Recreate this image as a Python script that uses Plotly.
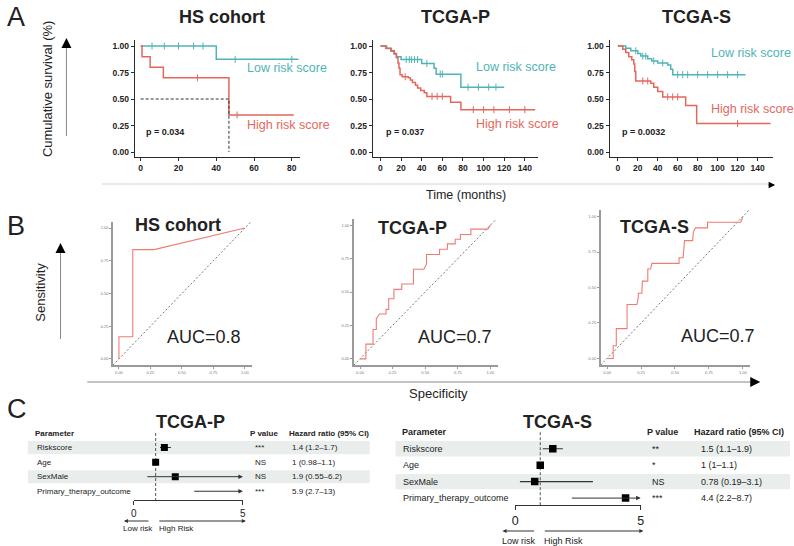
import plotly.graph_objects as go

W, H = 794, 546
FONT = "Liberation Sans, Arial, sans-serif"
INK = "#222222"
TEAL = "#4FB4B7"
RED = "#E4675C"
ROC_RED = "#F07B73"
BAND = "#E9EEEC"

# ---- A: Kaplan-Meier curves (months, survival probability) ----
KM_TITLES = ["HS cohort", "TCGA-P", "TCGA-S"]
KM_PVALUES = ["p = 0.034", "p = 0.037", "p = 0.0032"]
KM_LAST_TICK = [80, 140, 140]

HS_LOW_T = [0, 40, 83.5]
HS_LOW_S = [1.0, 0.875, 0.875]
HS_LOW_CENSOR = [6, 12.5, 20, 28, 33, 50, 80]
HS_HIGH_T = [0, 0.7, 5, 12, 46.7, 81]
HS_HIGH_S = [1.0, 0.9, 0.8, 0.7, 0.35, 0.35]
HS_HIGH_CENSOR = [30, 51]
HS_HIGH_MEDIAN = 46.7

TP_LOW_T = [0, 6, 10.5, 13, 15.5, 20, 40, 52, 54, 78, 120]
TP_LOW_S = [1.0, 0.977, 0.95, 0.925, 0.9, 0.872, 0.836, 0.79, 0.735, 0.612, 0.612]
TP_LOW_CENSOR = [25, 28, 30, 33, 36, 45, 58, 60, 85, 95, 105, 112]
TP_HIGH_T = [0, 5, 10, 13.5, 15.5, 17, 18, 19, 21, 27, 29, 31, 34, 36, 39, 42.5, 45, 68, 78, 150]
TP_HIGH_S = [1.0, 0.98, 0.955, 0.93, 0.89, 0.84, 0.79, 0.73, 0.71, 0.70, 0.68, 0.655,
             0.63, 0.605, 0.58, 0.56, 0.525, 0.47, 0.40, 0.40]
TP_HIGH_CENSOR = [24, 50, 55, 60, 90, 100, 110, 125, 140]

TS_LOW_T = [0, 8, 13, 20, 23, 30, 34, 40, 50, 53, 55, 128]
TS_LOW_S = [1.0, 0.98, 0.955, 0.93, 0.905, 0.88, 0.86, 0.84, 0.82, 0.78, 0.73, 0.73]
TS_LOW_CENSOR = [18, 25, 28, 36, 45, 60, 65, 70, 80, 90, 100, 110, 120]
TS_HIGH_T = [0, 5, 8, 11, 14, 16, 17, 18, 33, 36, 40, 45, 68, 79, 153]
TS_HIGH_S = [1.0, 0.97, 0.94, 0.90, 0.87, 0.83, 0.76, 0.67, 0.65, 0.61, 0.57, 0.52, 0.44, 0.27, 0.27]
TS_HIGH_CENSOR = [25, 30, 50, 55, 60, 120]

# ---- B: ROC curves ----
ROC_TITLES = ["HS cohort", "TCGA-P", "TCGA-S"]
ROC_AUC = [0.8, 0.7, 0.7]
HS_ROC_X = [0, 0, 0.11, 0.11, 0.28, 1.0]
HS_ROC_Y = [0, 0.17, 0.17, 0.835, 0.835, 1.0]
TP_ROC_X = [0, 0.045, 0.045, 0.10, 0.10, 0.125, 0.125, 0.15, 0.20, 0.20, 0.22, 0.22, 0.26, 0.26,
            0.32, 0.32, 0.41, 0.41, 0.49, 0.51, 0.51, 0.61, 0.61, 0.67, 0.67, 0.73, 0.73, 0.77,
            0.77, 0.85, 0.85, 0.98, 1.0]
TP_ROC_Y = [0, 0, 0.11, 0.11, 0.22, 0.22, 0.30, 0.335, 0.335, 0.37, 0.37, 0.45, 0.45, 0.52,
            0.52, 0.56, 0.56, 0.67, 0.67, 0.71, 0.78, 0.78, 0.82, 0.82, 0.86, 0.86, 0.895, 0.895,
            0.93, 0.93, 0.97, 0.97, 1.0]
TS_ROC_X = [0, 0.045, 0.045, 0.068, 0.068, 0.147, 0.147, 0.22, 0.23, 0.23, 0.256, 0.26, 0.30,
            0.30, 0.32, 0.33, 0.53, 0.53, 0.56, 0.57, 0.63, 0.635, 0.65, 0.74, 0.74, 0.985, 1.0]
TS_ROC_Y = [0, 0, 0.09, 0.09, 0.21, 0.21, 0.38, 0.38, 0.43, 0.46, 0.46, 0.545, 0.545, 0.63,
            0.63, 0.67, 0.67, 0.71, 0.71, 0.83, 0.83, 0.89, 0.92, 0.92, 0.96, 0.96, 1.0]
ROC_TICKS = [0, 0.25, 0.5, 0.75, 1.0]

# ---- C: Cox forest plots ----
FOREST_TITLES = ["TCGA-P", "TCGA-S"]
FOREST_PARAMS = ["Riskscore", "Age", "SexMale", "Primary_therapy_outcome"]
TP_HR = [1.4, 1, 1.9, 5.9]
TP_LO = [1.2, 0.98, 0.55, 2.7]
TP_HI = [1.7, 1.1, 6.2, 13]
TP_SIG = ["***", "NS", "NS", "***"]
TS_HR = [1.5, 1, 0.78, 4.4]
TS_LO = [1.1, 1, 0.19, 2.2]
TS_HI = [1.9, 1.1, 3.1, 8.7]
TS_SIG = ["**", "*", "NS", "***"]
FOREST_TICKS = [0, 5]
REF_HR = 1


def px(x):
    return x / W


def py(y):
    return 1 - y / H


def xdom(a, b):
    return [a / W, b / W]


def ydom(top, bottom):
    return [1 - bottom / H, 1 - top / H]


def sfx(n):
    return "" if n == 1 else str(n)


def step_value(times, surv, t):
    val = surv[0]
    for ti, si in zip(times, surv):
        if ti <= t:
            val = si
    return val


annotations = []
shapes = []
traces = []
layout = dict(width=W, height=H, autosize=False, margin=dict(l=0, r=0, t=0, b=0, pad=0),
              paper_bgcolor="white", plot_bgcolor="white", showlegend=False,
              font=dict(family=FONT, color=INK))


def text(s, x, y, size, bold=False, color=INK, xanchor="center", angle=0, xref="paper", yref="paper",
         yanchor="middle"):
    if xref == "paper":
        x = px(x)
    if yref == "paper":
        y = py(y)
    annotations.append(dict(text=f"<b>{s}</b>" if bold else s, x=x, y=y, xref=xref, yref=yref,
                            showarrow=False, xanchor=xanchor, yanchor=yanchor, textangle=angle,
                            font=dict(family=FONT, size=size, color=color)))


def line_px(x0, y0, x1, y1, color, width=1):
    shapes.append(dict(type="line", xref="paper", yref="paper", x0=px(x0), y0=py(y0),
                       x1=px(x1), y1=py(y1), line=dict(color=color, width=width)))


def arrow_px(x, y, ax, ay, size, color="black", head=2, width=1):
    annotations.append(dict(x=px(x), y=py(y), xref="paper", yref="paper", ax=ax, ay=ay,
                            showarrow=True, arrowhead=head, arrowsize=size, arrowwidth=width,
                            arrowcolor=color, text="", standoff=0, startstandoff=0))


# ---------------- panel A ----------------
km_sets = [
    (HS_LOW_T, HS_LOW_S, HS_LOW_CENSOR, HS_HIGH_T, HS_HIGH_S, HS_HIGH_CENSOR),
    (TP_LOW_T, TP_LOW_S, TP_LOW_CENSOR, TP_HIGH_T, TP_HIGH_S, TP_HIGH_CENSOR),
    (TS_LOW_T, TS_LOW_S, TS_LOW_CENSOR, TS_HIGH_T, TS_HIGH_S, TS_HIGH_CENSOR),
]
km_xdom = [(133, 300), (373, 540), (612, 777)]
km_xrange = [(-3.1, 84.5), (-7.5, 153), (-8.2, 155.6)]
km_title_x = [221, 456.5, 700]
km_label_pos = [((55, 0.79), (55, 0.255)), ((90.5, 0.80), (90.5, 0.267)), ((91, 0.93), (91, 0.41))]
km_p_x = [2, 3, 2.7]

for i, (lt, ls, lc, ht, hs, hc) in enumerate(km_sets):
    n = i + 1
    xa, ya = "x" + sfx(n), "y" + sfx(n)
    for t, s, cens, col in [(lt, ls, lc, TEAL), (ht, hs, hc, RED)]:
        traces.append(go.Scatter(x=t, y=s, mode="lines", line=dict(color=col, width=1.5, shape="hv"),
                                 xaxis=xa, yaxis=ya, hoverinfo="skip"))
        traces.append(go.Scatter(x=cens, y=[step_value(t, s, c) for c in cens], mode="markers",
                                 marker=dict(symbol="line-ns-open", size=5, color=col,
                                             line=dict(width=1, color=col)),
                                 xaxis=xa, yaxis=ya, hoverinfo="skip"))
    if i == 0:
        traces.append(go.Scatter(x=[0, HS_HIGH_MEDIAN, HS_HIGH_MEDIAN], y=[0.5, 0.5, 0],
                                 mode="lines", line=dict(color="#333", width=1, dash="3px,2px"),
                                 xaxis=xa, yaxis=ya, hoverinfo="skip"))
    common = dict(showline=True, linecolor="#2b2b2b", linewidth=1.2, ticks="outside", ticklen=3,
                  tickwidth=1, tickcolor="#2b2b2b", showgrid=False, zeroline=False,
                  tickfont=dict(family=FONT, size=8.5, color=INK, weight="bold"))
    layout["xaxis" + sfx(n)] = dict(domain=xdom(*km_xdom[i]), range=list(km_xrange[i]), anchor=ya,
                                    tickvals=list(range(0, KM_LAST_TICK[i] + 1, 20)), **common)
    layout["yaxis" + sfx(n)] = dict(domain=ydom(40, 157), range=[-0.047, 1.057], anchor=xa,
                                    tickvals=[0, 0.25, 0.5, 0.75, 1.0], tickformat=".2f", **common)
    text(KM_TITLES[i], km_title_x[i], 17, 18, bold=True)
    (lx, ly), (hx, hy) = km_label_pos[i]
    text("Low risk score", lx, ly, 12.5, color=TEAL, xanchor="left", xref=xa, yref=ya)
    text("High risk score", hx, hy, 12.5, color=RED, xanchor="left", xref=xa, yref=ya)
    text(KM_PVALUES[i], km_p_x[i], 0.19, 9, bold=True, xanchor="left", xref=xa, yref=ya)

text("A", 2, 0, 27, xanchor="left", yanchor="top")
text("Cumulative survival (%)", 45, 88.5, 13, angle=-90)
line_px(64, 136, 64, 46, "#888")
arrow_px(64, 38, 0, 9, 2)
text("Time (months)", 467.5, 195, 12.5)
line_px(100, 184, 772, 184, "#d3d3d3")
arrow_px(779, 185, -8, 0, 1.3)

# ---------------- panel B ----------------
roc_sets = [(HS_ROC_X, HS_ROC_Y), (TP_ROC_X, TP_ROC_Y), (TS_ROC_X, TS_ROC_Y)]
roc_xdom = [(111, 251), (354, 499), (603, 754)]
roc_ydom = [(222, 365), (219, 365), (210, 365)]
roc_title_pos = [(177, 225), (413, 228), (657, 227)]
roc_auc_pos = [(203, 337), (456, 337), (721, 336)]
ROC_RANGE_X = [-0.047, 1.055]
ROC_RANGE_Y = [-0.046, 1.046]

for i, (rx, ry) in enumerate(roc_sets):
    n = i + 4
    xa, ya = "x" + sfx(n), "y" + sfx(n)
    traces.append(go.Scatter(x=ROC_RANGE_X, y=ROC_RANGE_X, mode="lines",
                             line=dict(color="#555", width=0.8, dash="2px,2px"),
                             xaxis=xa, yaxis=ya, hoverinfo="skip"))
    traces.append(go.Scatter(x=rx, y=ry, mode="lines", line=dict(color=ROC_RED, width=1.1),
                             xaxis=xa, yaxis=ya, hoverinfo="skip"))
    common = dict(showline=True, linecolor="#9a9a9a", linewidth=1.5, ticks="outside", ticklen=2,
                  tickwidth=0.6, tickcolor="#9a9a9a", showgrid=False, zeroline=False,
                  tickvals=ROC_TICKS, tickformat=".2f",
                  tickfont=dict(family=FONT, size=4, color="#777"))
    layout["xaxis" + sfx(n)] = dict(domain=xdom(*roc_xdom[i]), range=ROC_RANGE_X, anchor=ya, **common)
    layout["yaxis" + sfx(n)] = dict(domain=ydom(*roc_ydom[i]), range=ROC_RANGE_Y, anchor=xa, **common)
    text(ROC_TITLES[i], *roc_title_pos[i], 18, bold=True)
    text(f"AUC={ROC_AUC[i]}", *roc_auc_pos[i], 18)

text("B", 2, 226, 27, xanchor="left")
text("Sensitivity", 37, 292, 13, angle=-90)
line_px(58, 339, 58, 250, "#888")
arrow_px(58, 243, 0, 9, 2)
text("Specificity", 439, 393, 13)
line_px(85, 382, 756, 382, "#888")
arrow_px(764, 382, -9, 0, 2)

# ---------------- panel C ----------------
forest_sets = [(TP_HR, TP_LO, TP_HI, TP_SIG), (TS_HR, TS_LO, TS_HI, TS_SIG)]
forest_geo = [
    dict(ax=(132, 242), ay=(425, 500), yr=[4.6, -0.55], band=(25, 370), half=0.45,
         cols=(30, 32, 247, 252, 287, 290), fs=8, tick=10, title=(189, 422), sq=7,
         low=(122, 148, 136), high=(157, 245, 175), arr_y=521, lab_y=528),
    dict(ax=(516.7, 643.3), ay=(424, 505), yr=[4.42, -0.5], band=(396, 794), half=0.47,
         cols=(401, 402, 648, 653, 695, 702), fs=9, tick=12.5, title=(559, 422), sq=7.5,
         low=(504, 537, 521), high=(546, 646, 565), arr_y=531, lab_y=541),
]

for i, (hr, lo, hi, sig) in enumerate(forest_sets):
    g = forest_geo[i]
    n = i + 7
    xa, ya = "x" + sfx(n), "y" + sfx(n)
    rows = list(range(1, len(FOREST_PARAMS) + 1))
    xmax = FOREST_TICKS[-1]
    for r in rows[::2]:
        shapes.append(dict(type="rect", xref="paper", yref=ya, x0=px(g["band"][0]), x1=px(g["band"][1]),
                           y0=r - g["half"], y1=r + g["half"], fillcolor=BAND, line=dict(width=0),
                           layer="below"))
    traces.append(go.Scatter(x=[REF_HR, REF_HR], y=[0, g["yr"][0]], mode="lines",
                             line=dict(color="#555", width=1, dash="3px,2px"),
                             xaxis=xa, yaxis=ya, hoverinfo="skip", cliponaxis=False))
    cx, cy = [], []
    for r, l, h in zip(rows, lo, hi):
        if h <= xmax:
            cx += [l, h, None]
            cy += [r, r, None]
        else:
            annotations.append(dict(x=xmax, y=r, xref=xa, yref=ya, axref=xa, ayref=ya, ax=l, ay=r,
                                    showarrow=True, arrowhead=2, arrowsize=0.9, arrowwidth=1,
                                    arrowcolor="#333", text="", standoff=0))
    traces.append(go.Scatter(x=cx, y=cy, mode="lines", line=dict(color="#333", width=1.1),
                             xaxis=xa, yaxis=ya, hoverinfo="skip"))
    traces.append(go.Scatter(x=hr, y=rows, mode="markers",
                             marker=dict(symbol="square", size=g["sq"], color="black"),
                             xaxis=xa, yaxis=ya, hoverinfo="skip"))
    layout["xaxis" + sfx(n)] = dict(domain=xdom(*g["ax"]), range=[0, xmax], anchor=ya,
                                    showline=True, linecolor="#333", linewidth=1, ticks="outside",
                                    ticklen=4, tickwidth=1, tickcolor="#333", tickvals=FOREST_TICKS,
                                    showgrid=False, zeroline=False,
                                    tickfont=dict(family=FONT, size=g["tick"], color=INK))
    layout["yaxis" + sfx(n)] = dict(domain=ydom(*g["ay"]), range=g["yr"], anchor=xa, visible=False)

    hx, rx_, pvx, pvr, hrx, hrr = g["cols"]
    fs = g["fs"]
    text("Parameter", hx, 0, fs, bold=True, xanchor="left", yref=ya)
    text("P value", pvx, 0, fs, bold=True, xanchor="left", yref=ya)
    text("Hazard ratio (95% CI)", hrx, 0, fs, bold=True, xanchor="left", yref=ya)
    for r, name, s, h, l, u in zip(rows, FOREST_PARAMS, sig, hr, lo, hi):
        text(name, rx_, r, fs, xanchor="left", yref=ya)
        text(s, pvr, r, fs, xanchor="left", yref=ya)
        text(f"{h:g} ({l:g}\u2013{u:g})", hrr, r, fs, xanchor="left", yref=ya)
    text(FOREST_TITLES[i], *g["title"], 18, bold=True)

    lh, lt, lc = g["low"]
    rt, rh, rc = g["high"]
    arrow_px(lh, g["arr_y"], lt - lh, 0, 0.8, color="#333")
    arrow_px(rh, g["arr_y"], rt - rh, 0, 0.8, color="#333")
    text("Low risk", lc, g["lab_y"], fs)
    text("High Risk", rc, g["lab_y"], fs)

text("C", 2, 409, 27, xanchor="left")

layout["annotations"] = annotations
layout["shapes"] = shapes
fig = go.Figure(data=traces, layout=layout)
fig.write_html("out.html", config={"displayModeBar": False},
               post_script="document.body.style.margin='0';")
